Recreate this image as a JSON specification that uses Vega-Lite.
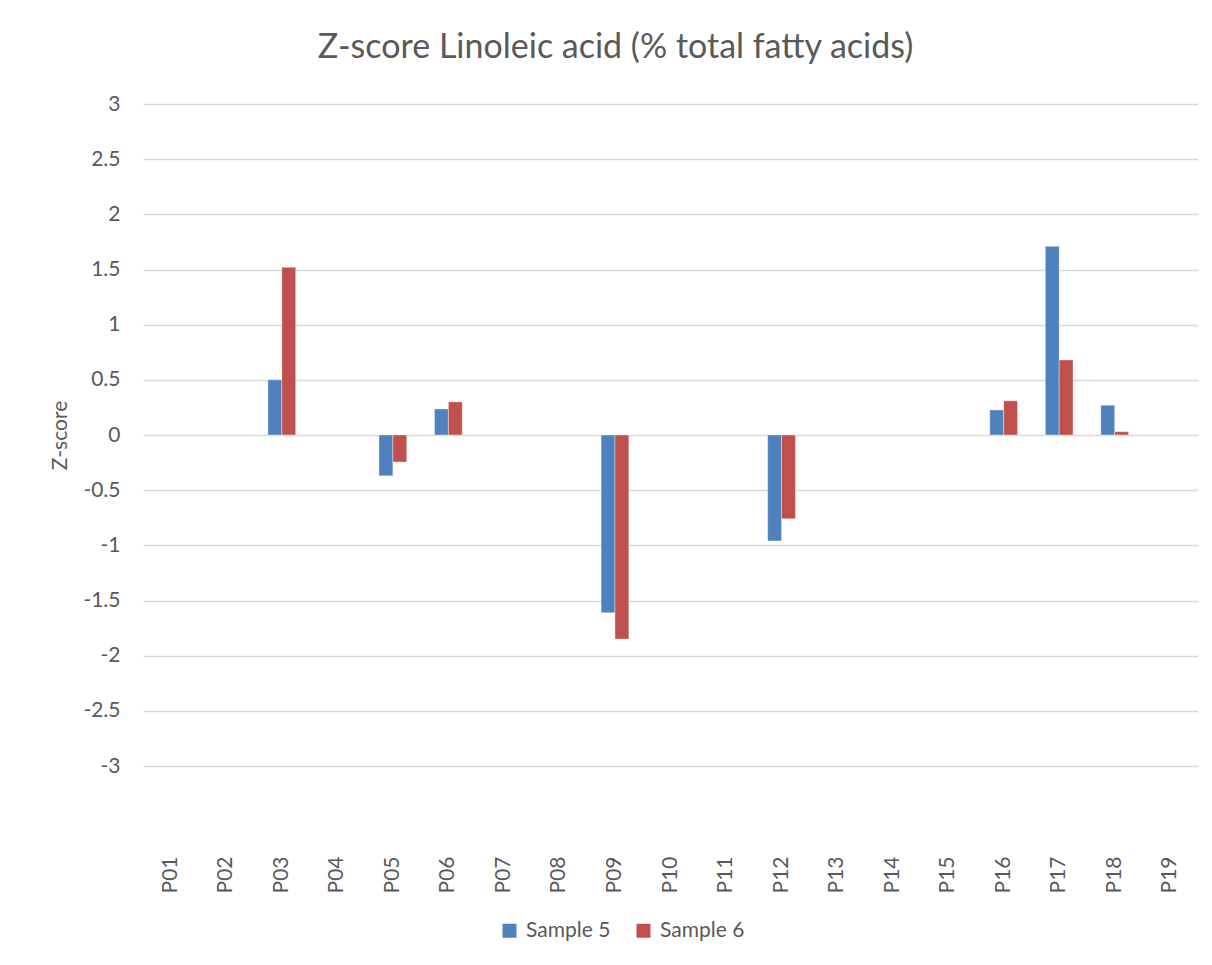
{
  "$schema": "https://vega.github.io/schema/vega-lite/v6.json",
  "width": 1055,
  "height": 662,
  "autosize": "none",
  "padding": {"left": 143, "top": 104, "right": 14, "bottom": 199},
  "background": "white",
  "config": {"view": {"stroke": null}},
  "title": {
    "text": "Z-score Linoleic acid (% total fatty acids)",
    "font": "Lato",
    "fontSize": 34,
    "fontWeight": "normal",
    "color": "#595959",
    "anchor": "middle",
    "offset": 28,
    "dx": -55
  },
  "data": {
    "values": [
      {"participant": "P03", "sample": "Sample 5", "z": 0.50},
      {"participant": "P03", "sample": "Sample 6", "z": 1.52},
      {"participant": "P05", "sample": "Sample 5", "z": -0.37},
      {"participant": "P05", "sample": "Sample 6", "z": -0.245},
      {"participant": "P06", "sample": "Sample 5", "z": 0.236},
      {"participant": "P06", "sample": "Sample 6", "z": 0.30},
      {"participant": "P09", "sample": "Sample 5", "z": -1.61},
      {"participant": "P09", "sample": "Sample 6", "z": -1.85},
      {"participant": "P12", "sample": "Sample 5", "z": -0.96},
      {"participant": "P12", "sample": "Sample 6", "z": -0.76},
      {"participant": "P16", "sample": "Sample 5", "z": 0.227},
      {"participant": "P16", "sample": "Sample 6", "z": 0.31},
      {"participant": "P17", "sample": "Sample 5", "z": 1.71},
      {"participant": "P17", "sample": "Sample 6", "z": 0.68},
      {"participant": "P18", "sample": "Sample 5", "z": 0.27},
      {"participant": "P18", "sample": "Sample 6", "z": 0.03}
    ]
  },
  "mark": {"type": "bar", "stroke": "white", "strokeWidth": 0.75, "strokeOpacity": 0.5},
  "encoding": {
    "x": {
      "field": "participant",
      "type": "nominal",
      "scale": {
        "domain": ["P01","P02","P03","P04","P05","P06","P07","P08","P09","P10","P11","P12","P13","P14","P15","P16","P17","P18","P19"],
        "paddingInner": 0.5,
        "paddingOuter": 0.25
      },
      "axis": {
        "title": null,
        "labelAngle": -90,
        "labelFont": "Lato",
        "labelFontSize": 21,
        "labelColor": "#595959",
        "domain": false,
        "ticks": false,
        "grid": false,
        "offset": 86,
        "labelPadding": 4
      }
    },
    "xOffset": {"field": "sample", "type": "nominal", "sort": ["Sample 5", "Sample 6"]},
    "y": {
      "field": "z",
      "type": "quantitative",
      "scale": {"domain": [-3, 3], "nice": false, "zero": true},
      "axis": {
        "title": "Z-score",
        "titleFont": "Lato",
        "titleFontSize": 21,
        "titleFontWeight": "normal",
        "titleColor": "#595959",
        "titlePadding": 12,
        "values": [-3, -2.5, -2, -1.5, -1, -0.5, 0, 0.5, 1, 1.5, 2, 2.5, 3],
        "labelExpr": "'' + datum.value",
        "labelFont": "Lato",
        "labelFontSize": 21,
        "labelColor": "#595959",
        "labelPadding": 23,
        "domain": false,
        "ticks": false,
        "grid": true,
        "gridColor": "#D9D9D9",
        "gridWidth": 1.3
      }
    },
    "color": {
      "field": "sample",
      "type": "nominal",
      "scale": {"domain": ["Sample 5", "Sample 6"], "range": ["#4F81BD", "#C0504D"]},
      "legend": {
        "title": null,
        "orient": "none",
        "direction": "horizontal",
        "legendX": 356,
        "legendY": 816,
        "symbolType": "square",
        "symbolSize": 196,
        "symbolStrokeWidth": 0,
        "labelFont": "Lato",
        "labelFontSize": 21,
        "labelColor": "#595959",
        "labelOffset": 6,
        "columnPadding": 22
      }
    }
  }
}
